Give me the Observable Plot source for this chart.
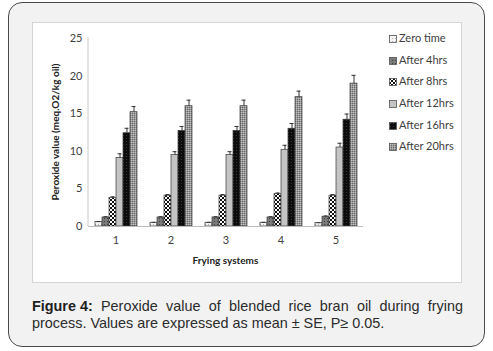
<!DOCTYPE html>
<html>
<head>
<meta charset="utf-8">
<script src="https://cdn.jsdelivr.net/npm/d3@7"></script>
<script src="https://cdn.jsdelivr.net/npm/@observablehq/plot@0.6"></script>
<style>
  html, body { margin: 0; padding: 0; background: #ffffff; }
  #card { position: absolute; left: 8px; top: 2px; width: 477px; height: 345px; box-sizing: border-box;
          border: 1px solid #4a4a4a; border-radius: 14px; background: #f2f2f2; }
  #box { position: absolute; left: 32px; top: 22px; width: 430px; height: 261px; box-sizing: border-box;
         border: 1px solid #d4d4d4; background: #ffffff; }
  #chart { position: absolute; left: 0; top: 0; }
  #legend { position: absolute; left: 356px; top: 4px; font-family: Lato, sans-serif; font-size: 11px; color: #404040; }
  #legend .row { height: 21.7px; line-height: 21.7px; white-space: nowrap; }
  #legend svg { vertical-align: -1px; margin-right: 2px; }
  #caption { position: absolute; left: 32px; top: 298px; width: 431px; font-family: "Liberation Sans", Arial, sans-serif;
             font-size: 14.4px; line-height: 17px; color: #2b2b2b; }
  #caption .l1 { text-align: justify; text-align-last: justify; white-space: nowrap; display: flex; justify-content: space-between; }
  #caption b { color: #1e1e1e; }
</style>
</head>
<body>
<svg width="0" height="0" style="position:absolute">
  <defs>
    <pattern id="p0" width="3" height="3" patternUnits="userSpaceOnUse">
      <rect width="3" height="3" fill="#f4f4f4"/><rect x="0" y="0" width="1" height="1" fill="#b0b0b0"/>
    </pattern>
    <pattern id="p1" width="3" height="3" patternUnits="userSpaceOnUse">
      <rect width="3" height="3" fill="#7a7a7a"/><rect x="0" y="0" width="1" height="1" fill="#404040"/>
    </pattern>
    <pattern id="p2" width="4" height="4" patternUnits="userSpaceOnUse">
      <rect width="4" height="4" fill="#ffffff"/>
      <rect x="0" y="0" width="2" height="2" fill="#111"/><rect x="2" y="2" width="2" height="2" fill="#111"/>
    </pattern>
    <pattern id="p3" width="3" height="3" patternUnits="userSpaceOnUse">
      <rect width="3" height="3" fill="#c4c4c4"/>
    </pattern>
    <pattern id="p4" width="3" height="3" patternUnits="userSpaceOnUse">
      <rect width="3" height="3" fill="#0c0c0c"/><rect x="1" y="1" width="1" height="1" fill="#3a3a3a"/>
    </pattern>
    <pattern id="p5" width="2" height="2" patternUnits="userSpaceOnUse">
      <rect width="2" height="2" fill="#9a9a9a"/><rect x="0" y="0" width="1" height="1" fill="#6a6a6a"/><rect x="1" y="1" width="1" height="1" fill="#bdbdbd"/>
    </pattern>
  </defs>
</svg>
<div id="card">
</div>
<div id="box">
  <div id="chart"></div>
  <div id="legend"></div>
</div>
<div id="caption">
  <div class="l1"><span><b>Figure 4:</b></span><span>Peroxide</span><span>value</span><span>of</span><span>blended</span><span>rice</span><span>bran</span><span>oil</span><span>during</span><span>frying</span></div>
  <div class="l2">process. Values are expressed as mean ± SE, P≥ 0.05.</div>
</div>
<script>
const systems = ["1", "2", "3", "4", "5"];
const series = ["Zero time", "After 4hrs", "After 8hrs", "After 12hrs", "After 16hrs", "After 20hrs"];
const yTicks = [0, 5, 10, 15, 20, 25];

const zeroTime = [0.6, 0.5, 0.5, 0.5, 0.45];
const after4 = [1.2, 1.2, 1.2, 1.2, 1.3];
const after8 = [3.8, 4.1, 4.1, 4.3, 4.1];
const after12 = [9.1, 9.5, 9.5, 10.2, 10.5];
const after16 = [12.4, 12.7, 12.7, 13.0, 14.2];
const after20 = [15.2, 16.0, 16.0, 17.2, 19.0];

const seZero = [0.05, 0.05, 0.05, 0.05, 0.05];
const se4 = [0.1, 0.1, 0.1, 0.1, 0.1];
const se8 = [0.15, 0.15, 0.15, 0.15, 0.15];
const se12 = [0.57, 0.45, 0.45, 0.6, 0.57];
const se16 = [0.66, 0.6, 0.6, 0.7, 0.75];
const se20 = [0.75, 0.8, 0.8, 0.8, 1.1];

const patterns = ["url(#p0)", "url(#p1)", "url(#p2)", "url(#p3)", "url(#p4)", "url(#p5)"];

const valueArrays = [zeroTime, after4, after8, after12, after16, after20];
const seArrays = [seZero, se4, se8, se12, se16, se20];
const rows = [];
series.forEach((s, i) => systems.forEach((sys, j) => {
  rows.push({system: sys, series: s, value: valueArrays[i][j], se: seArrays[i][j]});
}));

const plot = Plot.plot({
  width: 340,
  height: 255,
  marginLeft: 55,
  marginRight: 10,
  marginTop: 15,
  marginBottom: 52,
  style: {fontFamily: "Lato, sans-serif", fontSize: "11px", color: "#404040", background: "transparent"},
  fx: {domain: systems, paddingInner: 0.18, paddingOuter: 0.09, axis: "bottom", tickSize: 0, tickPadding: 10, label: null},
  x: {domain: series, axis: null, padding: 0},
  y: {domain: [0, 25], ticks: yTicks, tickSize: 0, tickPadding: 11, label: null},
  color: {type: "ordinal", domain: series, range: patterns},
  marks: [
    Plot.barY(rows, {fx: "system", x: "series", y: "value", fill: "series", stroke: "#3a3a3a", strokeWidth: 0.7}),
    Plot.ruleX(rows, {fx: "system", x: "series", y1: "value", y2: d => d.value + d.se, stroke: "#333", strokeWidth: 1}),
    Plot.tickY(rows, {fx: "system", x: "series", y: d => d.value + d.se, stroke: "#333", strokeWidth: 1, insetLeft: 1.5, insetRight: 1.5})
  ]
});
document.getElementById("chart").appendChild(plot);

// axis lines and titles using the plot's own scales
const yS = plot.scale("y");
const fxS = plot.scale("fx");
const svg = d3.select(plot);
const x0 = fxS.range[0], x1 = fxS.range[1];
svg.append("line").attr("x1", x0).attr("x2", x0).attr("y1", yS.apply(25) - 1).attr("y2", yS.apply(0))
  .attr("stroke", "#c8c8c8").attr("stroke-width", 1);
svg.append("line").attr("x1", x0).attr("x2", x1).attr("y1", yS.apply(0) + 0.5).attr("y2", yS.apply(0) + 0.5)
  .attr("stroke", "#bdbdbd").attr("stroke-width", 1);
svg.append("text").text("Peroxide value (meq.O2/kg oil)")
  .attr("transform", `translate(22,${(yS.apply(0) + yS.apply(25)) / 2 + 0}) rotate(-90)`)
  .attr("text-anchor", "middle").attr("dy", "0.35em")
  .attr("font-weight", "bold").attr("font-size", "10px").attr("fill", "#222");
svg.append("text").text("Frying systems")
  .attr("x", (x0 + x1) / 2).attr("y", 237).attr("text-anchor", "middle").attr("dy", "0.35em")
  .attr("font-weight", "bold").attr("font-size", "10px").attr("fill", "#222");

// legend
const legend = d3.select("#legend");
series.forEach((s, i) => {
  const row = legend.append("div").attr("class", "row");
  const sw = row.append("svg").attr("width", 8).attr("height", 8);
  sw.append("rect").attr("x", 0.5).attr("y", 0.5).attr("width", 7).attr("height", 7)
    .attr("fill", patterns[i]).attr("stroke", "#555").attr("stroke-width", 0.8);
  row.append("span").text(s);
});
</script>
</body>
</html>
